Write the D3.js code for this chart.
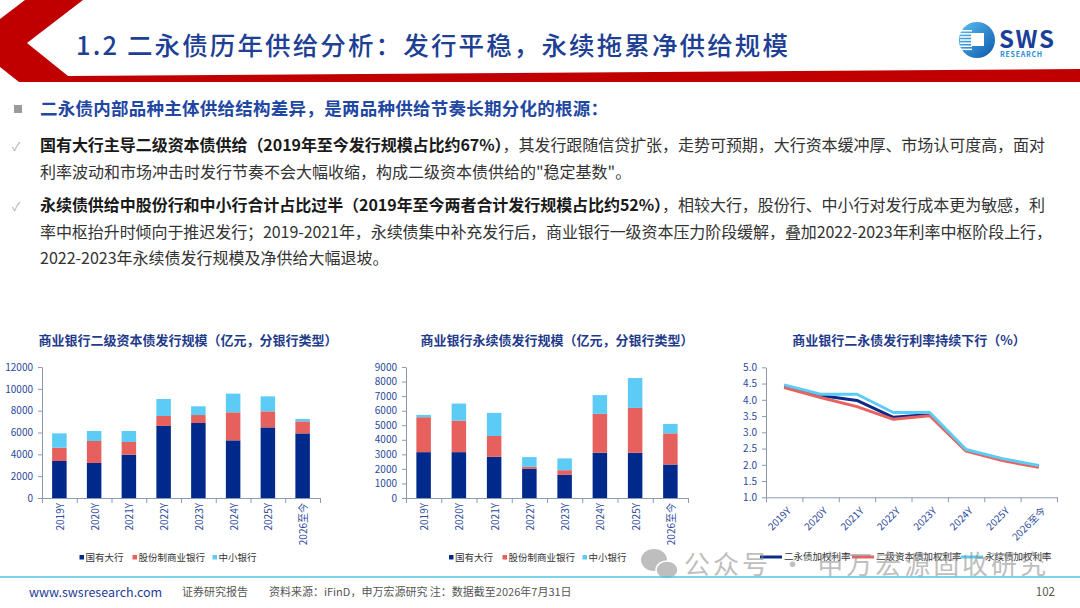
<!DOCTYPE html>
<html>
<head>
<meta charset="utf-8">
<script src="https://cdn.jsdelivr.net/npm/d3@7"></script>
<style>
  body { margin: 0; background: #fff; }
  svg { display: block; }
  text { font-family: "Noto Sans CJK SC", "Noto Sans", sans-serif; }
</style>
</head>
<body>
<svg id="slide" width="1080" height="608"></svg>
<script>
// ---- data ----
var years = ['2019Y', '2020Y', '2021Y', '2022Y', '2023Y', '2024Y', '2025Y', '2026至今'];
var bankTypes = ['国有大行', '股份制商业银行', '中小银行'];

// 二级资本债发行规模 (亿元)
var tier2Big   = [3390, 3210, 3970, 6600, 6870, 5280, 6470, 5920];
var tier2Joint = [1220, 2010, 1160,  910,  730, 2570, 1470, 1100];
var tier2Small = [1310,  920, 1010, 1560,  800, 1710, 1370,  220];
var tier2Ticks = [0, 2000, 4000, 6000, 8000, 10000, 12000];

// 永续债发行规模 (亿元)
var perpBig   = [3150, 3150, 2830, 2000, 1590, 3110, 3110, 2300];
var perpJoint = [2400, 2170, 1430,  140,  320, 2670, 3080, 2140];
var perpSmall = [ 160, 1170, 1590,  670,  810, 1290, 2050,  650];
var perpTicks = [0, 1000, 2000, 3000, 4000, 5000, 6000, 7000, 8000, 9000];

// 发行利率 (%)
var rateNames = ['二永债加权利率', '二级资本债加权利率', '永续债加权利率'];
var rateAll   = [4.43, 4.13, 3.98, 3.46, 3.55, 2.45, 2.17, 1.95];
var rateTier2 = [4.38, 4.07, 3.79, 3.40, 3.51, 2.42, 2.13, 1.92];
var ratePerp  = [4.46, 4.17, 4.17, 3.61, 3.61, 2.47, 2.19, 1.98];
var rateTicks = [1.0, 1.5, 2.0, 2.5, 3.0, 3.5, 4.0, 4.5, 5.0];

var barColors = ['#00298c', '#e6605d', '#5ccbf5'];
var axisColor = '#8a9ab5';
var tickColor = '#2c4a9a';
var titleColor = '#1f3b8c';

var svg = d3.select('#slide');

// ---- header band ----
svg.append('polygon')
  .attr('points', '25,0 83,0 27,43 68,76 1080,69 1080,82 19,82 0,67 0,19')
  .attr('fill', '#c00000');

svg.append('text')
  .attr('x', 76).attr('y', 55)
  .attr('textLength', 712).attr('lengthAdjust', 'spacing')
  .attr('font-size', 25.5).attr('font-weight', 500)
  .attr('fill', '#1d3f94')
  .text('1.2 二永债历年供给分析：发行平稳，永续拖累净供给规模');

// logo
var defs = svg.append('defs');
var grad = defs.append('linearGradient').attr('id', 'logoGrad')
  .attr('x1', 0).attr('y1', 0).attr('x2', 1).attr('y2', 1);
grad.append('stop').attr('offset', '0%').attr('stop-color', '#5cc0f0');
grad.append('stop').attr('offset', '100%').attr('stop-color', '#0b56ad');
svg.append('circle').attr('cx', 977).attr('cy', 40).attr('r', 18).attr('fill', 'url(#logoGrad)');
d3.range(7).forEach(function (i) {
  svg.append('rect').attr('x', 960).attr('y', 30 + i * 3.1).attr('width', 12).attr('height', 1.5).attr('fill', '#fff');
});
svg.append('rect').attr('x', 971).attr('y', 33).attr('width', 13).attr('height', 13).attr('fill', '#fff');
svg.append('text').attr('x', 999).attr('y', 48)
  .attr('font-family', 'Liberation Sans, Arial').attr('font-weight', 'bold').attr('font-size', 24)
  .attr('textLength', 55).attr('fill', '#1a3f9a').text('SWS');
svg.append('text').attr('x', 1000).attr('y', 57)
  .attr('font-family', 'Liberation Sans, Arial').attr('font-weight', 'bold').attr('font-size', 7)
  .attr('textLength', 42).attr('fill', '#2a8ad8').text('RESEARCH');

// ---- bullet text ----
svg.append('rect').attr('x', 14).attr('y', 105).attr('width', 8).attr('height', 8).attr('fill', '#9a9a9a');
[151, 211].forEach(function (yy) {
  svg.append('text').attr('x', 12).attr('y', yy).attr('font-size', 12)
    .attr('font-family', 'DejaVu Sans').attr('fill', '#b0b0b0').text('✓');
});

var lines = [
  { y: 115, len: 568, size: 17.5, parts: [['二永债内部品种主体供给结构差异，是两品种供给节奏长期分化的根源：', 'bold', '#2247a3']] },
  { y: 151, len: 1005, size: 16, parts: [['国有大行主导二级资本债供给（2019年至今发行规模占比约67%）', 'bold', '#1a1a1a'],
      ['，其发行跟随信贷扩张，走势可预期，大行资本缓冲厚、市场认可度高，面对', 'normal', '#333']] },
  { y: 178, len: null, size: 16, parts: [['利率波动和市场冲击时发行节奏不会大幅收缩，构成二级资本债供给的"稳定基数"。', 'normal', '#333']] },
  { y: 211, len: 1005, size: 16, parts: [['永续债供给中股份行和中小行合计占比过半（2019年至今两者合计发行规模占比约52%）', 'bold', '#1a1a1a'],
      ['，相较大行，股份行、中小行对发行成本更为敏感，利', 'normal', '#333']] },
  { y: 238, len: 1012, size: 16, parts: [['率中枢抬升时倾向于推迟发行；2019-2021年，永续债集中补充发行后，商业银行一级资本压力阶段缓解，叠加2022-2023年利率中枢阶段上行，', 'normal', '#333']] },
  { y: 264, len: null, size: 16, parts: [['2022-2023年永续债发行规模及净供给大幅退坡。', 'normal', '#333']] }
];
lines.forEach(function (ln) {
  var t = svg.append('text').attr('x', 40).attr('y', ln.y).attr('font-size', ln.size);
  if (ln.len) t.attr('textLength', ln.len).attr('lengthAdjust', 'spacing');
  ln.parts.forEach(function (p) {
    t.append('tspan').attr('font-weight', p[1]).attr('fill', p[2]).text(p[0]);
  });
});

// ---- helpers ----
function styleAxis(g) {
  g.select('.domain').attr('stroke', axisColor);
  g.selectAll('.tick line').attr('stroke', axisColor);
  g.selectAll('.tick text').attr('fill', tickColor)
    .attr('font-family', 'Liberation Sans, Arial, "Noto Sans CJK SC"').attr('font-size', 10);
}

function chartTitle(cx, label) {
  svg.append('text').attr('x', cx).attr('y', 345).attr('text-anchor', 'middle')
    .attr('font-size', 13).attr('font-weight', 'bold').attr('fill', titleColor).text(label);
}

function drawBars(cfg) {
  var g = svg.append('g');
  var x = d3.scaleBand().domain(years).range([cfg.left, cfg.right]);
  var y = d3.scaleLinear().domain([0, cfg.max]).range([498, 367]);
  var rows = years.map(function (yr, i) {
    return { year: yr, big: cfg.series[0][i], joint: cfg.series[1][i], small: cfg.series[2][i] };
  });
  var layers = d3.stack().keys(['big', 'joint', 'small'])(rows);
  var barW = 14.5;

  g.selectAll('g.layer').data(layers).enter().append('g')
    .attr('fill', function (d, i) { return barColors[i]; })
    .selectAll('rect').data(function (d) { return d; }).enter().append('rect')
    .attr('x', function (d) { return x(d.data.year) + (x.bandwidth() - barW) / 2; })
    .attr('width', barW)
    .attr('y', function (d) { return y(d[1]); })
    .attr('height', function (d) { return y(d[0]) - y(d[1]); });

  g.append('g').attr('transform', 'translate(' + cfg.left + ',0)')
    .call(d3.axisLeft(y).tickValues(cfg.ticks).tickFormat(d3.format('d')).tickSize(4).tickSizeOuter(0).tickPadding(5))
    .call(styleAxis);

  var xi = d3.scaleLinear().domain([0, years.length]).range([cfg.left, cfg.right]);
  g.append('g').attr('transform', 'translate(0,498)')
    .call(d3.axisBottom(xi).tickValues(d3.range(years.length + 1)).tickFormat('').tickSize(5).tickSizeOuter(0))
    .call(styleAxis);

  g.selectAll('text.xl').data(years).enter().append('text')
    .attr('transform', function (d) { return 'translate(' + (x(d) + x.bandwidth() / 2 + 1) + ',503) rotate(-90)'; })
    .attr('text-anchor', 'end').attr('dy', '0.35em')
    .attr('font-family', 'Liberation Sans, Arial, "Noto Sans CJK SC"').attr('font-size', 10)
    .attr('fill', tickColor).text(function (d) { return d; });

  // legend
  bankTypes.forEach(function (name, i) {
    var lx = cfg.legendX[i];
    g.append('rect').attr('x', lx).attr('y', 555).attr('width', 4.5).attr('height', 4.5).attr('fill', barColors[i]);
    g.append('text').attr('x', lx + 6).attr('y', 557.5).attr('dy', '0.35em')
      .attr('font-size', 9.5).attr('fill', '#333').text(name);
  });
}

// ---- chart 1 ----
chartTitle(188, '商业银行二级资本债发行规模（亿元，分银行类型）');
drawBars({ left: 42, right: 320, max: 12000, ticks: tier2Ticks,
  series: [tier2Big, tier2Joint, tier2Small], legendX: [79.5, 132.5, 212.5] });

// ---- chart 2 ----
chartTitle(557, '商业银行永续债发行规模（亿元，分银行类型）');
drawBars({ left: 406, right: 688, max: 9000, ticks: perpTicks,
  series: [perpBig, perpJoint, perpSmall], legendX: [449, 502.5, 582.5] });

// ---- chart 3 ----
chartTitle(909, '商业银行二永债发行利率持续下行（%）');
(function () {
  var g = svg.append('g');
  var x = d3.scaleBand().domain(years).range([766, 1057]);
  var y = d3.scaleLinear().domain([1, 5]).range([497.3, 367.3]);
  var lineColors = ['#0b2a8a', '#e8625f', '#5ccbf5'];
  var seriesList = [rateAll, rateTier2, ratePerp];

  g.append('g').attr('transform', 'translate(766,0)')
    .call(d3.axisLeft(y).tickValues(rateTicks).tickFormat(d3.format('.1f')).tickSize(4).tickSizeOuter(0).tickPadding(5))
    .call(styleAxis);
  var xi = d3.scaleLinear().domain([0, years.length]).range([766, 1057]);
  g.append('g').attr('transform', 'translate(0,497.3)')
    .call(d3.axisBottom(xi).tickValues(d3.range(years.length + 1)).tickFormat('').tickSize(5).tickSizeOuter(0))
    .call(styleAxis);

  var line = d3.line()
    .x(function (d, i) { return x(years[i]) + x.bandwidth() / 2; })
    .y(function (d) { return y(d); });
  seriesList.forEach(function (s, i) {
    g.append('path').datum(s).attr('d', line).attr('fill', 'none')
      .attr('stroke', lineColors[i]).attr('stroke-width', 3).attr('stroke-linejoin', 'round');
  });

  g.selectAll('text.xl').data(years).enter().append('text')
    .attr('transform', function (d) { return 'translate(' + (x(d) + x.bandwidth() / 2 + 5) + ',509) rotate(-45)'; })
    .attr('text-anchor', 'end').attr('dy', '0.35em')
    .attr('font-family', 'Liberation Sans, Arial, "Noto Sans CJK SC"').attr('font-size', 10)
    .attr('fill', tickColor).text(function (d) { return d; });

  var legendX = [760, 852, 961];
  rateNames.forEach(function (name, i) {
    g.append('line').attr('x1', legendX[i]).attr('x2', legendX[i] + 22).attr('y1', 557).attr('y2', 557)
      .attr('stroke', lineColors[i]).attr('stroke-width', 3);
    g.append('text').attr('x', legendX[i] + 24).attr('y', 557).attr('dy', '0.35em')
      .attr('font-size', 9.5).attr('fill', '#333').text(name);
  });
})();

// ---- watermark ----
var wm = svg.append('g').attr('opacity', 0.55).attr('fill', '#8a8a8a');
wm.append('ellipse').attr('cx', 654).attr('cy', 560).attr('rx', 13).attr('ry', 11);
wm.append('ellipse').attr('cx', 667).attr('cy', 570).attr('rx', 11).attr('ry', 9).attr('stroke', '#fff').attr('stroke-width', 1.5);
wm.append('text').attr('x', 684).attr('y', 574).attr('font-size', 26)
  .attr('textLength', 362).attr('lengthAdjust', 'spacing').text('公众号 · 申万宏源固收研究');

// ---- footer ----
svg.append('line').attr('x1', 0).attr('x2', 1080).attr('y1', 577).attr('y2', 577)
  .attr('stroke', '#4fc3e8').attr('stroke-width', 1.5);
svg.append('text').attr('x', 29).attr('y', 597).attr('font-family', 'Liberation Sans, Arial')
  .attr('font-size', 12.5).attr('fill', '#1f3c99').text('www.swsresearch.com');
svg.append('text').attr('x', 182).attr('y', 596).attr('font-size', 11).attr('fill', '#555').text('证券研究报告');
svg.append('text').attr('x', 269).attr('y', 596).attr('font-size', 11).attr('fill', '#555')
  .text('资料来源：iFinD，申万宏源研究 注：数据截至2026年7月31日');
svg.append('text').attr('x', 1055).attr('y', 596).attr('text-anchor', 'end').attr('font-family', 'Liberation Sans, Arial')
  .attr('font-size', 11.5).attr('fill', '#555').text('102');
</script>
</body>
</html>
